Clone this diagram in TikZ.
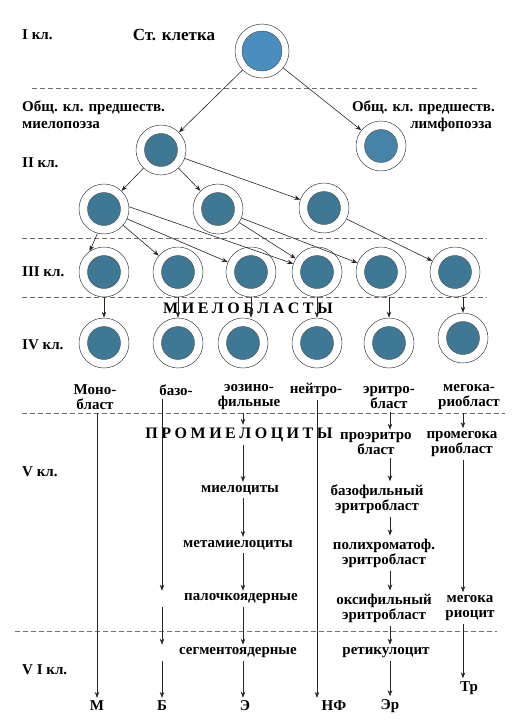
\documentclass[tikz,border=0pt]{standalone}
\usepackage{fontspec}
\setmainfont{Liberation Serif}
\usetikzlibrary{arrows.meta,calc}
\definecolor{stemblue}{HTML}{4A8EBF}
\definecolor{lymblue}{HTML}{4584A8}
\definecolor{cellblue}{HTML}{3E7894}
\definecolor{dashgray}{HTML}{707070}
\newcommand\lvlfont{\bfseries\fontsize{15}{17}\selectfont}
\newcommand\labfont{\bfseries\fontsize{15}{15}\selectfont}
\newcommand\spfont{\bfseries\fontsize{16}{17}\selectfont\spaceskip=3.5pt\relax}
\begin{document}
\begin{tikzpicture}[x=1pt,y=-1pt,
  cell/.style={circle, draw=black!75, line width=0.5pt, fill=white, minimum size=50pt, inner sep=0pt,
    path picture={\filldraw[fill=#1, draw=black!70, line width=0.4pt] (path picture bounding box.center) circle (16.5pt);}},
  cell/.default=cellblue,
  stemcell/.style={circle, draw=black!75, line width=0.5pt, fill=white, minimum size=54pt, inner sep=0pt,
    path picture={\filldraw[fill=stemblue, draw=black!70, line width=0.4pt] (path picture bounding box.center) circle (20pt);}},
  lvl/.style={font=\lvlfont, anchor=west, inner sep=0pt},
  lab/.style={font=\labfont, align=center, inner sep=3pt},
  spaced/.style={font=\spfont, inner sep=3pt},
  arr/.style={draw=black!85, line width=0.6pt, -{Stealth[length=6pt,width=4.5pt]}},
  dsh/.style={draw=dashgray, line width=0.7pt, dash pattern=on 5pt off 3pt}]
\useasboundingbox (0,0) rectangle (512,720);

% dashed separators
\draw[dsh] (32,88) -- (478,88);
\draw[dsh] (22,238) -- (487,238);
\draw[dsh] (22,297) -- (487,297);
\draw[dsh] (22,413) -- (505,413);
\draw[dsh] (15,631) -- (497,631);

% level I
\node[lvl] (l1) at (22,35) {I кл.};
\node[font=\bfseries\fontsize{17}{19}\selectfont, inner sep=0pt] (sttxt) at (174,35) {Ст. клетка};
\node[stemcell] (stem) at (262,51) {};

% level II
\node[lvl] (mt1) at (22,108) {Общ. кл. предшеств.};
\node[lvl] (mt2) at (22,125) {миелопоэза};
\node[lvl, anchor=east] (lt1) at (495,108) {Общ. кл. предшеств.};
\node[lvl, anchor=east] (lt2) at (492,125) {лимфопоэза};
\node[lvl] (l2) at (22,163) {II кл.};
\node[cell] (mye) at (161,150) {};
\node[cell=lymblue] (lym) at (381,146) {};
\node[cell] (c2a) at (104,209) {};
\node[cell] (c2b) at (218,209) {};
\node[cell] (c2c) at (324,208) {};

% level III
\node[lvl] (l3) at (22,272) {III кл.};
\node[cell] (t1) at (104,272) {};
\node[cell] (t2) at (178,272) {};
\node[cell] (t3) at (251,272) {};
\node[cell] (t4) at (317,272) {};
\node[cell] (t5) at (381,272) {};
\node[cell] (t6) at (455,272) {};

\node[spaced] (mbl) at (248,308) {М И Е Л О Б Л А С Т Ы};

% level IV
\node[lvl] (l4) at (22,345) {IV кл.};
\node[cell] (q1) at (104,343) {};
\node[cell] (q2) at (178,343) {};
\node[cell] (q3) at (243,343) {};
\node[cell] (q4) at (317,343) {};
\node[cell] (q5) at (389,343) {};
\node[cell] (q6) at (463,338) {};

\node[lab] (q1l) at (95,397.5) {Моно-\\бласт};
\node[lab] (q2l) at (176,390) {базо-};
\node[lab] (q3l) at (249,397.5) {эозино-\\фильные};
\node[lab] (q4l) at (316,390) {нейтро-};
\node[lab] (q5l) at (389,397.5) {эритро-\\бласт};
\node[lab] (q6l) at (469,397.5) {мегока-\\риобласт};

% level V
\node[spaced] (prom) at (239,435) {П Р О М И Е Л О Ц И Т Ы};
\node[lab] (proer) at (376,444) {проэритро\\бласт};
\node[lab] (promeg) at (462,444) {промегока\\риобласт};
\node[lvl] (l5) at (22,472) {V кл.};
\node[lab] (mielo) at (240,490) {миелоциты};
\node[lab] (basoer) at (377,499) {базофильный\\эритробласт};
\node[lab] (metam) at (238,545) {метамиелоциты};
\node[lab] (polyer) at (384,553) {полихроматоф.\\эритробласт};
\node[lab] (palo) at (241,599) {палочкоядерные};
\node[lab] (oksier) at (384,608) {оксифильный\\эритробласт};
\node[lab] (megoc) at (470,608) {мегока\\риоцит};

% level VI
\node[lab] (segm) at (238,653) {сегментоядерные};
\node[lab] (retic) at (386,653) {ретикулоцит};
\node[lvl] (l6) at (22,670) {V I кл.};
\node[lab] (tr) at (469,688) {Тр};
\node[lab] (bM) at (97,706) {М};
\node[lab] (bB) at (162,706) {Б};
\node[lab] (bE) at (245,706) {Э};
\node[lab] (bN) at (334,706) {НФ};
\node[lab] (bR) at (390,706) {Эр};

% tree connectors
\draw[arr] (stem) -- (mye);
\draw[arr] (stem) -- (lym);
\draw[arr] (mye) -- (c2a);
\draw[arr] (mye) -- (c2b);
\draw[arr] (mye) -- (c2c);
\draw[arr] (c2a.-105) -- (t1.125);
\draw[arr] (c2a) -- (t2);
\draw[arr] (c2a) -- (t3);
\draw[arr] (c2a.5) -- (t4);
\draw[arr] (c2b) -- (t4);
\draw[arr] (c2b) -- (t5);
\draw[arr] (c2c) -- (t6);

% III -> IV
\draw[arr] (t1.south) -- (q1.north);
\draw[arr] (t2.south) -- (q2.north);
\draw[arr] (t3.south) -- (t3.south |- q3.north);
\draw[arr] (t4.south) -- (q4.north);
\draw[arr] (q5.north |- t5.south) -- (q5.north);
\draw[arr] (q6.north |- t6.south) -- (q6.north);

% columns
\coordinate (cM) at (97,0);
\coordinate (cB) at (162,0);
\coordinate (cE) at (243,0);
\coordinate (cN) at (317,0);
\coordinate (cR) at (390,0);
\coordinate (cT) at (463,0);

\draw[arr] (q1l.south -| cM) -- (bM.north -| cM);

\draw[arr] (q2l.south -| cB) -- (palo.north -| cB);
\draw[arr] (palo.south -| cB) -- (segm.north -| cB);
\draw[arr] (segm.south -| cB) -- (bB.north -| cB);

\draw[arr] (q3l.south -| cE) -- (prom.north -| cE);
\draw[arr] (prom.south -| cE) -- (mielo.north -| cE);
\draw[arr] (mielo.south -| cE) -- (metam.north -| cE);
\draw[arr] (metam.south -| cE) -- (palo.north -| cE);
\draw[arr] (palo.south -| cE) -- (segm.north -| cE);
\draw[arr] (segm.south -| cE) -- (bE.north -| cE);

\draw[arr] (q4l.south -| cN) -- (bN.north -| cN);

\draw[arr] (q5l.south -| cR) -- (proer.north -| cR);
\draw[arr] (proer.south -| cR) -- (basoer.north -| cR);
\draw[arr] (basoer.south -| cR) -- (polyer.north -| cR);
\draw[arr] (polyer.south -| cR) -- (oksier.north -| cR);
\draw[arr] (oksier.south -| cR) -- (retic.north -| cR);
\draw[arr] (retic.south -| cR) -- (bR.north -| cR);

\draw[arr] (q6l.south -| cT) -- (promeg.north -| cT);
\draw[arr] (promeg.south -| cT) -- (megoc.north -| cT);
\draw[arr] (megoc.south -| cT) -- (tr.north -| cT);
\end{tikzpicture}
\end{document}
